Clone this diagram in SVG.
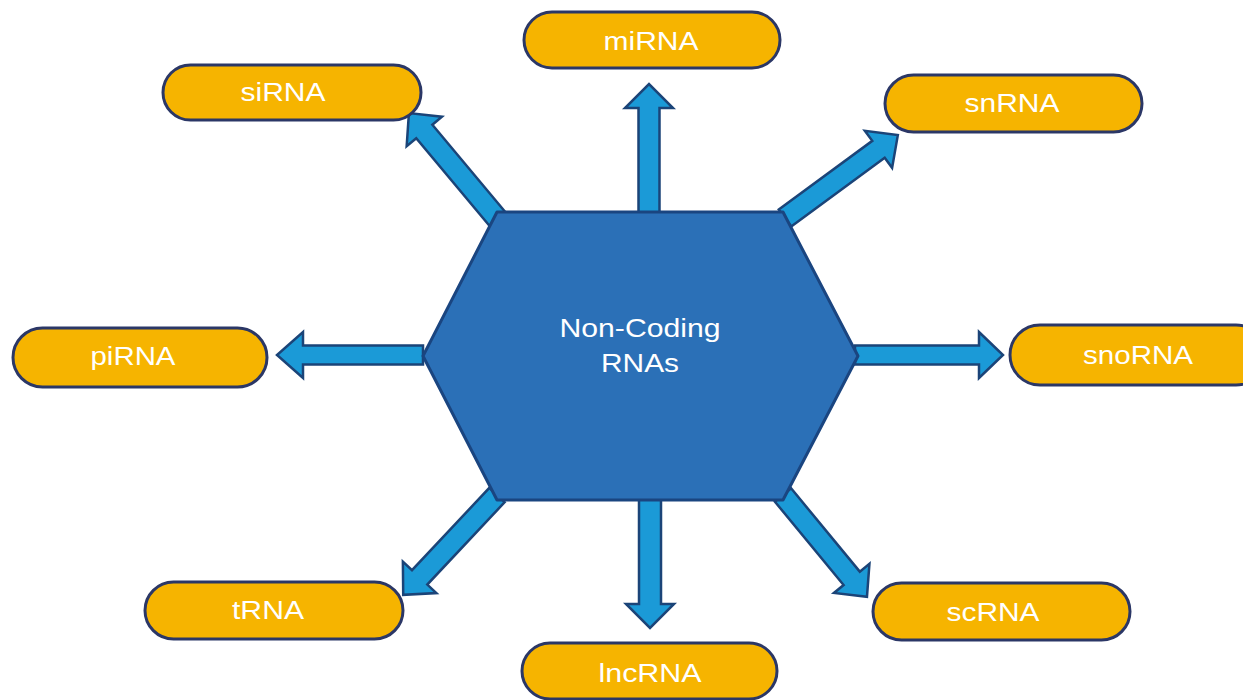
<svg xmlns="http://www.w3.org/2000/svg" width="1243" height="700" viewBox="0 0 1243 700">
  <defs>
    <style>
      .pill { fill: #f6b400; stroke: #2b3766; stroke-width: 3; }
      .lbl { fill: #ffffff; font-family: "Liberation Sans", Arial, sans-serif; font-size: 25px; text-anchor: middle; }
      .arrow { fill: #1b9ad7; stroke: #1b4478; stroke-width: 2.5; stroke-linejoin: miter; }
      .hex { fill: #2b70b7; stroke: #1a4580; stroke-width: 3; stroke-linejoin: round; }
    </style>
  </defs>
  <rect width="1243" height="700" fill="#ffffff"/>

  <g id="connectors">
    <!-- miRNA (up) -->
    <path class="arrow" d="M0,-10.5 L106,-10.5 L106,-24 L130,0 L106,24 L106,10.5 L0,10.5 Z" transform="translate(649,214) rotate(-90)"/>
    <!-- lncRNA (down) -->
    <path class="arrow" d="M0,-11 L106,-11 L106,-24 L130,0 L106,24 L106,11 L0,11 Z" transform="translate(650,498) rotate(90)"/>
    <!-- piRNA (left) -->
    <path class="arrow" d="M0,-9.5 L120,-9.5 L120,-23 L146,0 L120,23 L120,9.5 L0,9.5 Z" transform="translate(423,355) rotate(180)"/>
    <!-- snoRNA (right) -->
    <path class="arrow" d="M0,-9.5 L124,-9.5 L124,-23 L148,0 L124,23 L124,9.5 L0,9.5 Z" transform="translate(855,355)"/>
    <!-- siRNA (up-left) -->
    <path class="arrow" d="M0,-10.5 L118,-10.5 L118,-23 L142,0 L118,23 L118,10.5 L0,10.5 Z" transform="translate(500,222) rotate(-129.9)"/>
    <!-- snRNA (up-right) -->
    <path class="arrow" d="M0,-10.5 L116,-10.5 L116,-23 L140,0 L116,23 L116,10.5 L0,10.5 Z" transform="translate(785,218) rotate(-36.3)"/>
    <!-- tRNA (down-left) -->
    <path class="arrow" d="M0,-10.5 L113,-10.5 L113,-23 L137,0 L113,23 L113,10.5 L0,10.5 Z" transform="translate(497,495) rotate(133.2)"/>
    <!-- scRNA (down-right) -->
    <path class="arrow" d="M0,-10.5 L108,-10.5 L108,-23 L132,0 L108,23 L108,10.5 L0,10.5 Z" transform="translate(783,495) rotate(50.5)"/>
  </g>

  <g id="center">
    <polygon class="hex" points="497,212 783,212 858,356 783,500 497,500 423,356"/>
    <text class="lbl" x="640" y="337" textLength="161" lengthAdjust="spacingAndGlyphs">Non-Coding</text>
    <text class="lbl" x="640" y="372" textLength="78" lengthAdjust="spacingAndGlyphs">RNAs</text>
  </g>

  <g id="miRNA">
    <rect class="pill" x="524" y="12" width="256" height="56" rx="28"/>
    <text class="lbl" x="651" y="50" textLength="95" lengthAdjust="spacingAndGlyphs">miRNA</text>
  </g>
  <g id="siRNA">
    <rect class="pill" x="163" y="65" width="258" height="55" rx="27.5"/>
    <text class="lbl" x="283" y="101" textLength="85" lengthAdjust="spacingAndGlyphs">siRNA</text>
  </g>
  <g id="snRNA">
    <rect class="pill" x="885" y="75" width="257" height="57" rx="28.5"/>
    <text class="lbl" x="1012" y="112" textLength="95" lengthAdjust="spacingAndGlyphs">snRNA</text>
  </g>
  <g id="piRNA">
    <rect class="pill" x="13" y="328" width="254" height="59" rx="29.5"/>
    <text class="lbl" x="133" y="365" textLength="85" lengthAdjust="spacingAndGlyphs">piRNA</text>
  </g>
  <g id="snoRNA">
    <rect class="pill" x="1010" y="325" width="256" height="60" rx="30"/>
    <text class="lbl" x="1138" y="364" textLength="110" lengthAdjust="spacingAndGlyphs">snoRNA</text>
  </g>
  <g id="tRNA">
    <rect class="pill" x="145" y="582" width="258" height="57" rx="28.5"/>
    <text class="lbl" x="268" y="619" textLength="72" lengthAdjust="spacingAndGlyphs">tRNA</text>
  </g>
  <g id="lncRNA">
    <rect class="pill" x="522" y="643" width="255" height="56" rx="28"/>
    <text class="lbl" x="650" y="682" textLength="103" lengthAdjust="spacingAndGlyphs">lncRNA</text>
  </g>
  <g id="scRNA">
    <rect class="pill" x="873" y="583" width="257" height="57" rx="28.5"/>
    <text class="lbl" x="993" y="621" textLength="93" lengthAdjust="spacingAndGlyphs">scRNA</text>
  </g>
</svg>
